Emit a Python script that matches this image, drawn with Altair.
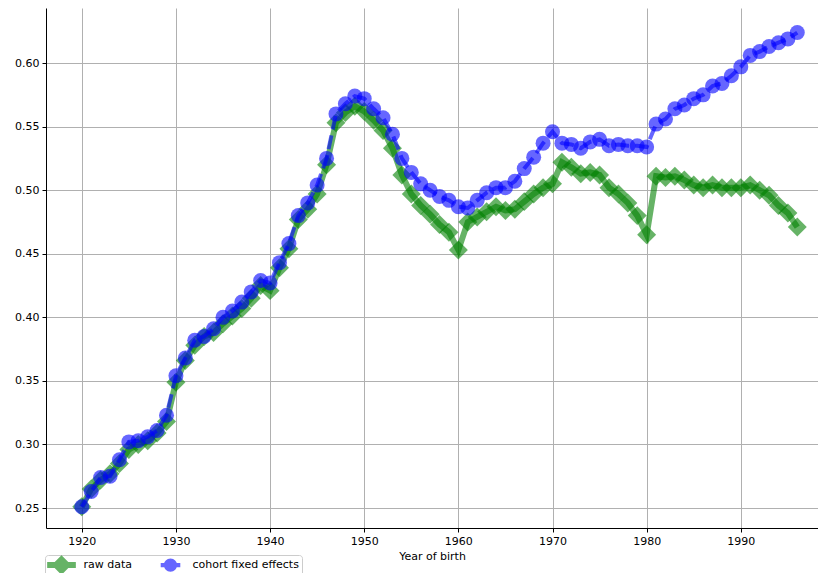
import altair as alt
import pandas as pd

years = list(range(1920, 1997))

raw_data = [
    0.251, 0.265, 0.272, 0.277, 0.285, 0.296, 0.300, 0.303, 0.309, 0.318,
    0.349, 0.366, 0.378, 0.385, 0.388, 0.395, 0.401, 0.407, 0.415, 0.425,
    0.421, 0.439, 0.454, 0.477, 0.485, 0.497, 0.520, 0.553, 0.561, 0.566,
    0.562, 0.555, 0.547, 0.533, 0.512, 0.497, 0.488, 0.481, 0.473, 0.467,
    0.453, 0.475, 0.479, 0.483, 0.487, 0.484, 0.485, 0.491, 0.497, 0.502,
    0.505, 0.522, 0.518, 0.513, 0.514, 0.512, 0.502, 0.497, 0.490, 0.480,
    0.465, 0.511, 0.510, 0.511, 0.508, 0.504, 0.502, 0.504, 0.502, 0.502,
    0.502, 0.504, 0.500, 0.496, 0.488, 0.482, 0.471,
]

cohort_fe = [
    0.251, 0.263, 0.274, 0.275, 0.288, 0.302, 0.303, 0.306, 0.311, 0.323,
    0.354, 0.368, 0.382, 0.385, 0.391, 0.400, 0.405, 0.412, 0.420, 0.429,
    0.427, 0.443, 0.458, 0.480, 0.490, 0.504, 0.525, 0.560, 0.568, 0.574,
    0.572, 0.564, 0.557, 0.544, 0.525, 0.514, 0.505, 0.500, 0.495, 0.492,
    0.487, 0.486, 0.492, 0.498, 0.502, 0.502, 0.507, 0.517, 0.526, 0.537,
    0.546, 0.537, 0.536, 0.533, 0.538, 0.540, 0.535, 0.536, 0.535, 0.535,
    0.534, 0.552, 0.556, 0.564, 0.567, 0.572, 0.575, 0.582, 0.584, 0.590,
    0.597, 0.606, 0.609, 0.613, 0.616, 0.619, 0.624,
]

series_names = ["raw data", "cohort fixed effects"]
x_ticks = [1920, 1930, 1940, 1950, 1960, 1970, 1980, 1990]
y_ticks = [0.25, 0.30, 0.35, 0.40, 0.45, 0.50, 0.55, 0.60]

df = pd.DataFrame({
    "year": years + years,
    "value": raw_data + cohort_fe,
    "series": [series_names[0]] * len(years) + [series_names[1]] * len(years),
})

FONT = "DejaVu Sans"

x_enc = alt.X(
    "year:Q",
    scale=alt.Scale(domain=[1916.2, 1998.2], nice=False, zero=False),
    axis=alt.Axis(values=x_ticks, format="d", title="Year of birth"),
)
y_enc = alt.Y(
    "value:Q",
    scale=alt.Scale(domain=[0.2343, 0.6433], nice=False, zero=False),
    axis=alt.Axis(values=y_ticks, format=".2f", title=None),
)

base = alt.Chart(df).encode(x=x_enc, y=y_enc)
raw_base = base.transform_filter(alt.datum.series == series_names[0])
cfe_base = base.transform_filter(alt.datum.series == series_names[1])

raw_line = raw_base.mark_line(color="green", opacity=0.6, strokeWidth=6)
raw_pts = raw_base.mark_point(shape="diamond", filled=True, color="green",
                              opacity=0.6, size=360, strokeWidth=0)
cfe_line = cfe_base.mark_line(color="blue", opacity=0.6, strokeWidth=4,
                              strokeDash=[14, 6])
cfe_pts = cfe_base.mark_point(shape="circle", filled=True, color="blue",
                              opacity=0.6, size=225, strokeWidth=0)

green_path = ("M-2.05,-0.43 L2.05,-0.43 L2.05,0.43 L-2.05,0.43 Z "
              "M0,-1.4 L1.4,0 L0,1.4 L-1.4,0 Z")
blue_path = ("M-1.4,-0.3 L-0.5,-0.3 L-0.5,0.3 L-1.4,0.3 Z "
             "M0.5,-0.3 L1.4,-0.3 L1.4,0.3 L0.5,0.3 Z "
             "M0.95,0 A0.95,0.95 0 1,1 -0.95,0 A0.95,0.95 0 1,1 0.95,0 Z "
             "M-2.05,-1.4 L-2.05,-1.4 Z M2.05,1.4 L2.05,1.4 Z")

legend_props = dict(
    orient="none",
    legendX=-1,
    legendY=547,
    direction="horizontal",
    title=None,
    symbolSize=196,
    symbolOffset=6.5,
    symbolOpacity=0.6,
    symbolStrokeWidth=0,
    labelOffset=15,
    labelFontSize=11,
    labelFont=FONT,
    labelColor="black",
    labelBaseline="middle",
    columnPadding=23,
    padding=3,
    strokeColor="#cccccc",
    fillColor="white",
    cornerRadius=3,
)

legend_df = pd.DataFrame({"series": series_names})
legend_layer = alt.Chart(legend_df).mark_point(filled=True, opacity=0).encode(
    color=alt.Color("series:N",
                    scale=alt.Scale(domain=series_names, range=["green", "blue"]),
                    legend=alt.Legend(**legend_props)),
    shape=alt.Shape("series:N",
                    scale=alt.Scale(domain=series_names, range=[green_path, blue_path]),
                    legend=alt.Legend(**legend_props)),
)

chart = alt.layer(raw_line, raw_pts, cfe_line, cfe_pts, legend_layer).properties(
    width=772,
    height=520,
    autosize=alt.AutoSizeParams(type="none"),
    padding={"left": 46, "top": 8, "right": 0, "bottom": 45},
    background="white",
).configure_view(
    stroke=None
).configure_axis(
    domainColor="black",
    domainWidth=1,
    tickColor="black",
    tickSize=4,
    tickWidth=1,
    labelFont=FONT,
    labelFontSize=11,
    labelColor="black",
    labelPadding=3,
    gridColor="#b0b0b0",
    gridWidth=1,
    titleFont=FONT,
    titleFontSize=11,
    titleFontWeight="normal",
    titleColor="black",
    titlePadding=4,
)

chart.save("out.html", embed_options={"renderer": "svg", "actions": False})
